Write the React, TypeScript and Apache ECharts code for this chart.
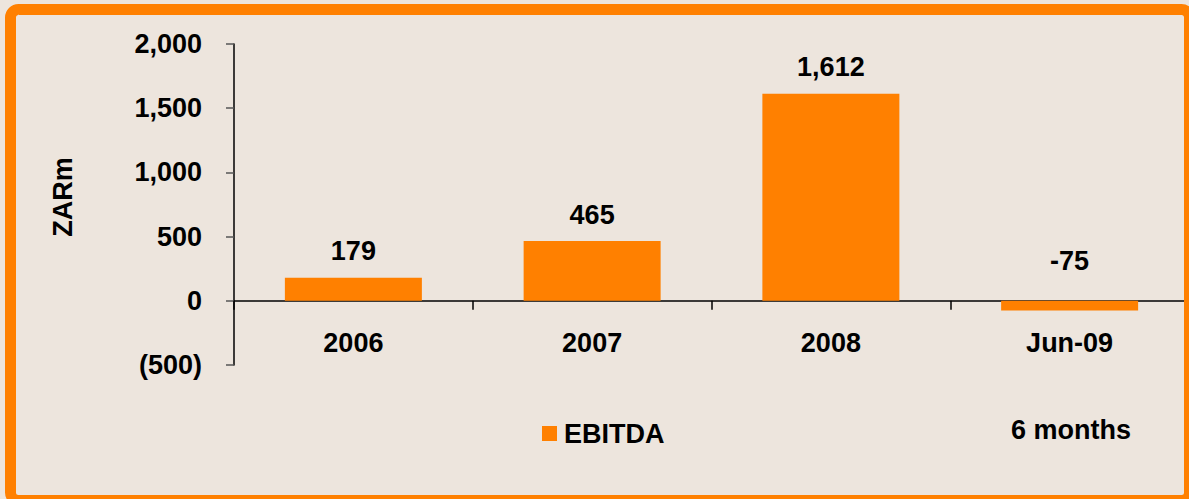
import React, { useEffect, useRef } from "react";
import * as echarts from "echarts";

const categories = ["2006", "2007", "2008", "Jun-09"];
const ebitda = [179, 465, 1612, -75];
const yMin = -500;
const yMax = 2000;
const yInterval = 500;
const seriesName = "EBITDA";
const axisName = "ZARm";
const note = "6 months";

const ORANGE = "#FF8000";
const BG = "#EDE5DD";
const FONT = "'Liberation Sans', Arial, sans-serif";
const FS = 27;

function fmt(v: number): string {
  const s = Math.abs(v).toLocaleString("en-US");
  return v < 0 ? `(${s})` : s;
}

export default function App() {
  const ref = useRef<HTMLDivElement>(null);
  useEffect(() => {
    if (!ref.current) return;
    const chart = echarts.init(ref.current, null, { renderer: "svg" });
    chart.setOption({
      animation: false,
      backgroundColor: BG,
      textStyle: { fontFamily: FONT },
      grid: { left: 234, right: 0, top: 44, bottom: 134 },
      legend: {
        data: [seriesName],
        left: 537,
        top: 415,
        itemWidth: 15,
        itemHeight: 15,
        itemGap: 10,
        icon: "rect",
        textStyle: { fontFamily: FONT, fontSize: FS, fontWeight: "bold", color: "#000", padding: [0, 0, 0, 2] },
      },
      xAxis: {
        type: "category",
        data: categories,
        axisLine: { show: true, onZero: true, lineStyle: { color: "#000", width: 1.5 } },
        axisTick: { show: true, length: 9, alignWithLabel: false, lineStyle: { color: "#000", width: 1.5 } },
        axisLabel: { margin: -36, fontFamily: FONT, fontSize: FS, fontWeight: "bold", color: "#000" },
        splitLine: { show: false },
      },
      yAxis: {
        type: "value",
        min: yMin,
        max: yMax,
        interval: yInterval,
        axisLine: { show: true, lineStyle: { color: "#000", width: 1.5 } },
        axisTick: { show: true, inside: false, length: 8, lineStyle: { color: "#555", width: 1.5 } },
        axisLabel: {
          margin: 32,
          formatter: (v: number) => fmt(v),
          fontFamily: FONT,
          fontSize: FS,
          fontWeight: "bold",
          color: "#000",
        },
        splitLine: { show: false },
      },
      series: [
        {
          name: seriesName,
          type: "bar",
          barWidth: 137,
          itemStyle: { color: ORANGE },
          data: ebitda.map((v) =>
            v < 0
              ? { value: v, label: { position: "top", distance: 26 } }
              : { value: v }
          ),
          label: {
            show: true,
            position: "top",
            distance: 13,
            formatter: (p: any) => p.value.toLocaleString("en-US"),
            fontFamily: FONT,
            fontSize: FS,
            fontWeight: "bold",
            color: "#000",
          },
        },
      ],
      graphic: [
        {
          type: "text",
          x: 63,
          y: 197,
          rotation: Math.PI / 2,
          style: {
            text: axisName,
            fontFamily: FONT,
            fontSize: FS,
            fontWeight: "bold",
            fill: "#000",
            textAlign: "center",
            textVerticalAlign: "middle",
          },
        },
        {
          type: "text",
          x: 1071,
          y: 430,
          style: {
            text: note,
            fontFamily: FONT,
            fontSize: FS,
            fontWeight: "bold",
            fill: "#000",
            textAlign: "center",
            textVerticalAlign: "middle",
          },
        },
        {
          type: "rect",
          z: 100,
          shape: { x: 10.5, y: 9.5, width: 1179, height: 491, r: 8 },
          style: { fill: "none", stroke: ORANGE, lineWidth: 11 },
        },
      ],
    });
    return () => chart.dispose();
  }, []);
  return (
    <div
      ref={ref}
      style={{ position: "fixed", left: 0, top: 0, width: 1189, height: 499 }}
    />
  );
}
